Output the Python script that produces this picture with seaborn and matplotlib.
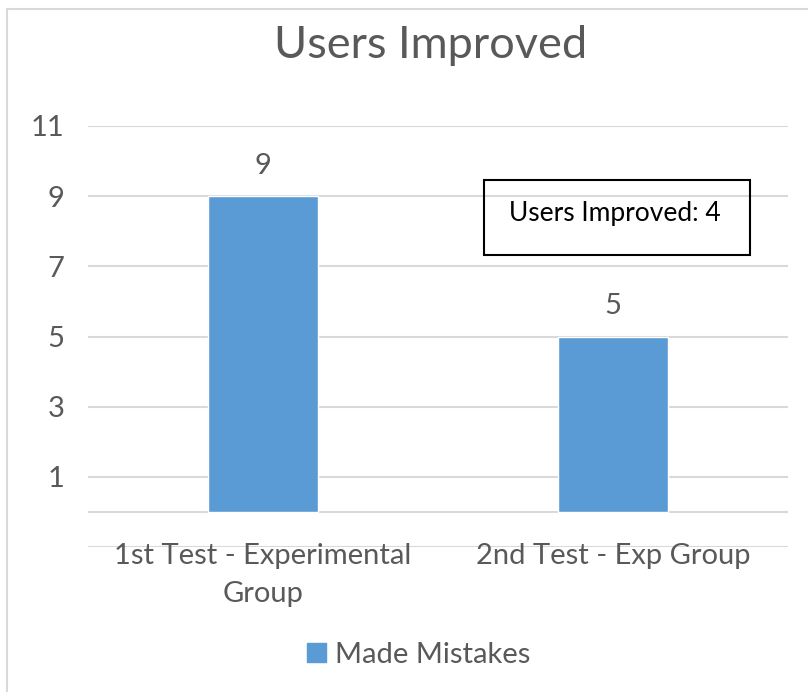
import matplotlib
matplotlib.use('Agg')
import matplotlib.pyplot as plt
import seaborn as sns
import pandas as pd
from matplotlib.patches import Rectangle, Patch

# data
categories = ['1st Test - Experimental\nGroup', '2nd Test - Exp Group']
made_mistakes = [9, 5]
y_ticks = [-1, 1, 3, 5, 7, 9, 11]
y_tick_labels = ['', '1', '3', '5', '7', '9', '11']
note_text = 'Users Improved: 4'

BAR = '#5B9BD5'
GRID = '#D9D9D9'
TXT = '#595959'

sns.set_style('white')
plt.rcParams['font.family'] = ['Lato', 'DejaVu Sans']

df = pd.DataFrame({'cat': categories, 'val': made_mistakes})

fig = plt.figure(figsize=(8.08, 6.92), dpi=100)
ax = fig.add_axes([88/808, 1-547/692, 700/808, (547-126)/692])

sns.barplot(data=df, x='cat', y='val', color=BAR, width=0.314,
            saturation=1, ax=ax, zorder=3)

ax.set_xlim(-0.5, 1.5)
ax.set_ylim(-1, 11)
ax.set_yticks(y_ticks)
ax.set_yticklabels(y_tick_labels, fontsize=21, color=TXT)
ax.tick_params(axis='y', length=0, pad=17)
ax.set_xticks([])
ax.set_xlabel('')
ax.set_ylabel('')
ax.grid(axis='y', color=GRID, linewidth=1.5, zorder=0)
ax.axhline(0, color=GRID, linewidth=1.5, zorder=2)
for s in ax.spines.values():
    s.set_visible(False)

# category labels under the baseline
for i, c in enumerate(categories):
    ax.text(i, -0.9, c, ha='center', va='top', fontsize=21, color=TXT,
            linespacing=1.55)

# data labels
for i, v in enumerate(made_mistakes):
    ax.text(i, v + 0.5, str(v), ha='center', va='bottom', fontsize=21, color=TXT)

fig.text(431/808, 1-45/692, 'Users Improved', ha='center', va='center',
         fontsize=32.5, color=TXT)

# note box
fig.patches.append(Rectangle((484/808, 1-255/692), 266/808, 75/692,
                             transform=fig.transFigure, fill=False,
                             edgecolor='black', linewidth=1.5))
fig.text(615/808, 1-213/692, note_text, ha='center', va='center',
         fontsize=19, color='black')

# legend
fig.legend(handles=[Patch(color=BAR, label='Made Mistakes')],
           loc='center', bbox_to_anchor=(419/808, 1-655/692), frameon=False,
           fontsize=21, labelcolor=TXT, handlelength=0.65, handleheight=0.65,
           handletextpad=0.3)

# chart border
fig.patches.append(Rectangle((7/808, -0.01), 1.05, 1-9/692 + 0.01,
                             transform=fig.transFigure, fill=False,
                             edgecolor=GRID, linewidth=1.5))

fig.savefig('out.png', dpi=100, facecolor='white')
